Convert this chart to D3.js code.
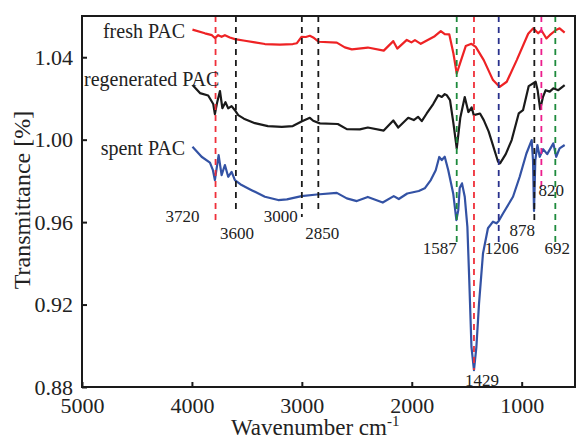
<!DOCTYPE html>
<html>
<head>
<meta charset="utf-8">
<script src="https://cdn.jsdelivr.net/npm/d3@7"></script>
<style>
  html, body { margin: 0; padding: 0; background: #fff; }
  svg { display: block; font-family: "Liberation Serif", "Times New Roman", serif; }
</style>
</head>
<body>
<div id="chart"></div>
<script>
// FTIR spectra, [wavenumber cm-1, transmittance]
const fresh = [
  [3995, 1.0534], [3882, 1.0516], [3818, 1.0507], [3791, 1.0493], [3761, 1.0507],
  [3730, 1.0499], [3700, 1.0507], [3655, 1.0496], [3609, 1.0488], [3518, 1.0480],
  [3427, 1.0472], [3336, 1.0464], [3200, 1.0461], [3082, 1.0464], [3045, 1.0468],
  [3003, 1.0499], [2964, 1.0498], [2927, 1.0504], [2897, 1.0496], [2845, 1.0475],
  [2682, 1.0471], [2609, 1.0448], [2545, 1.0438], [2400, 1.0447], [2255, 1.0432],
  [2168, 1.0478], [2132, 1.0442], [2045, 1.0484], [2003, 1.0472], [1971, 1.0483],
  [1918, 1.0465], [1791, 1.0502], [1736, 1.0527], [1700, 1.0512], [1659, 1.0511],
  [1621, 1.0418], [1591, 1.0321], [1561, 1.0370], [1509, 1.0454], [1457, 1.0465],
  [1418, 1.0450], [1345, 1.0386], [1261, 1.0289], [1200, 1.0256], [1136, 1.0281],
  [1045, 1.0386], [941, 1.0514], [895, 1.0540], [850, 1.0516], [821, 1.0531],
  [775, 1.0491], [745, 1.0507], [691, 1.0531], [655, 1.0540], [609, 1.0519]
];

const regenerated = [
  [3994, 1.0265], [3927, 1.0226], [3852, 1.0214], [3806, 1.0173], [3791, 1.0124],
  [3770, 1.0182], [3745, 1.0236], [3723, 1.0153], [3695, 1.0182], [3670, 1.0152],
  [3639, 1.0163], [3609, 1.0143], [3579, 1.0119], [3527, 1.0102], [3427, 1.0080],
  [3309, 1.0066], [3182, 1.0062], [3082, 1.0066], [3003, 1.0088], [2927, 1.0106],
  [2897, 1.0092], [2836, 1.0079], [2673, 1.0076], [2591, 1.0051], [2473, 1.0050],
  [2400, 1.0059], [2255, 1.0044], [2168, 1.0093], [2123, 1.0059], [2032, 1.0106],
  [1982, 1.0095], [1943, 1.0111], [1909, 1.0090], [1864, 1.0127], [1805, 1.0173],
  [1759, 1.0216], [1727, 1.0207], [1700, 1.0221], [1682, 1.0216], [1652, 1.0192],
  [1621, 1.0079], [1591, 0.9958], [1559, 1.0105], [1518, 1.0207], [1485, 1.0134],
  [1455, 1.0156], [1436, 1.0119], [1379, 1.0127], [1345, 1.0095], [1300, 1.0039],
  [1215, 0.9893], [1197, 0.9885], [1145, 0.9930], [1091, 0.9998], [1027, 1.0127],
  [988, 1.0143], [936, 1.0260], [873, 1.0281], [855, 1.0240], [832, 1.0148],
  [806, 1.0208], [782, 1.0240], [745, 1.0233], [712, 1.0249], [667, 1.0240],
  [609, 1.0265]
];

const spent = [
  [3995, 0.9966], [3912, 0.9917], [3836, 0.9889], [3809, 0.9852], [3791, 0.9804],
  [3757, 0.9925], [3730, 0.9828], [3700, 0.9877], [3670, 0.9820], [3639, 0.9844],
  [3609, 0.9804], [3548, 0.9780], [3457, 0.9755], [3336, 0.9723], [3215, 0.9707],
  [3136, 0.9710], [3003, 0.9726], [2864, 0.9734], [2682, 0.9742], [2591, 0.9715],
  [2500, 0.9702], [2400, 0.9722], [2264, 0.9695], [2164, 0.9726], [2118, 0.9712],
  [2041, 0.9739], [1936, 0.9751], [1882, 0.9764], [1827, 0.9804], [1782, 0.9852],
  [1750, 0.9916], [1727, 0.9901], [1700, 0.9917], [1668, 0.9852], [1623, 0.9739],
  [1594, 0.9610], [1577, 0.9658], [1564, 0.9765], [1543, 0.9788], [1518, 0.9723],
  [1494, 0.9577], [1477, 0.9319], [1457, 0.8995], [1434, 0.8882], [1412, 0.8995],
  [1388, 0.9206], [1352, 0.9448], [1307, 0.9570], [1261, 0.9602], [1230, 0.9594],
  [1209, 0.9605], [1170, 0.9642], [1079, 0.9723], [1018, 0.9820], [957, 0.9933],
  [909, 0.9998], [897, 0.9901], [888, 0.9654], [876, 0.9901], [857, 0.9974],
  [836, 0.9917], [805, 0.9954], [768, 0.9930], [712, 0.9982], [686, 0.9917],
  [655, 0.9958], [609, 0.9974]
];

const seriesNames = ['fresh PAC', 'regenerated PAC', 'spent PAC'];
const seriesColors = ['#ee2224', '#1a1a1a', '#3352a4'];

// marked bands: drawn position, label, dashed line end (transmittance)
const bandWn = [3785, 3600, 3000, 2850, 1591, 1434, 1209, 885, 821, 694];
const bandLabels = ['3720', '3600', '3000', '2850', '1587', '1429', '1206', '878', '820', '692'];
const bandEnd = [0.9605, 0.9644, 0.9625, 0.9649, 0.9489, 0.8882, 0.9503, 0.9610, 0.9770, 0.9503];
const bandColors = ['#f0303a', '#1a1a1a', '#1a1a1a', '#1a1a1a', '#1d8a3c', '#f0303a', '#28308c', '#1a1a1a', '#ec1e8c', '#1d8a3c'];

const xTicks = [5000, 4000, 3000, 2000, 1000];
const yTicks = [0.88, 0.92, 0.96, 1.00, 1.04];

const W = 577, H = 439;
const svg = d3.select('#chart').append('svg').attr('width', W).attr('height', H);

const x = d3.scaleLinear().domain([5000, 515]).range([82, 575]);
const y = d3.scaleLinear().domain([0.88, 1.06]).range([387, 16]);

// curves
const line = d3.line().x(d => x(d[0])).y(d => y(d[1]));
[fresh, regenerated, spent].forEach((s, i) => {
  svg.append('path').datum(s)
    .attr('d', line)
    .attr('fill', 'none')
    .attr('stroke', seriesColors[i])
    .attr('stroke-width', 2.2)
    .attr('stroke-linejoin', 'round');
});

// dashed band markers on top
bandWn.forEach((w, i) => {
  svg.append('line')
    .attr('x1', x(w)).attr('x2', x(w))
    .attr('y1', y(1.06)).attr('y2', y(bandEnd[i]))
    .attr('stroke', bandColors[i])
    .attr('stroke-width', 1.8)
    .attr('stroke-dasharray', '6,5');
});

// label layout: dx from line, baseline y
const labelPos = [[-33, 222], [1, 239], [-21, 222], [4, 239], [-17, 254],
                  [8, 386], [3, 254], [-12, 236], [10, 196], [2, 254]];
bandLabels.forEach((t, i) => {
  svg.append('text')
    .attr('x', x(bandWn[i]) + labelPos[i][0])
    .attr('y', labelPos[i][1])
    .attr('text-anchor', 'middle')
    .attr('font-size', 17)
    .attr('fill', '#222')
    .text(t);
});

// series labels
svg.append('text').attr('x', 185).attr('y', 38).attr('text-anchor', 'end')
  .attr('font-size', 20).attr('fill', '#222').text(seriesNames[0]);
svg.append('text').attr('x', 84).attr('y', 86).attr('text-anchor', 'start')
  .attr('font-size', 20).attr('fill', '#222').text(seriesNames[1]);
svg.append('text').attr('x', 185).attr('y', 155).attr('text-anchor', 'end')
  .attr('font-size', 20).attr('fill', '#222').text(seriesNames[2]);

// axes
const xAxis = svg.append('g').attr('transform', `translate(0,${y(0.88)})`)
  .call(d3.axisBottom(x).tickValues(xTicks).tickSize(-5).tickPadding(10).tickFormat(d3.format('d')));
const yAxis = svg.append('g').attr('transform', `translate(${x(5000)},0)`)
  .call(d3.axisLeft(y).tickValues(yTicks).tickSize(-5).tickPadding(9).tickFormat(d3.format('.2f')));
[xAxis, yAxis].forEach(a => {
  a.select('.domain').remove();
  a.selectAll('.tick line').attr('stroke', '#1a1a1a').attr('stroke-width', 2);
  a.selectAll('text').attr('font-family', '"Liberation Serif", serif')
    .attr('font-size', 22).attr('fill', '#222');
});

// frame
svg.append('rect')
  .attr('x', x(5000)).attr('y', y(1.06))
  .attr('width', x(515) - x(5000)).attr('height', y(0.88) - y(1.06))
  .attr('fill', 'none').attr('stroke', '#1a1a1a').attr('stroke-width', 2);

// axis titles
const xt = svg.append('text').attr('x', 231).attr('y', 435)
  .attr('font-size', 23).attr('fill', '#222');
xt.append('tspan').text('Wavenumber cm');
xt.append('tspan').attr('dy', -9).attr('font-size', 15).text('-1');

svg.append('text')
  .attr('transform', 'translate(30,200) rotate(-90)')
  .attr('text-anchor', 'middle')
  .attr('font-size', 24).attr('fill', '#222')
  .text('Transmittance [%]');
</script>
</body>
</html>
